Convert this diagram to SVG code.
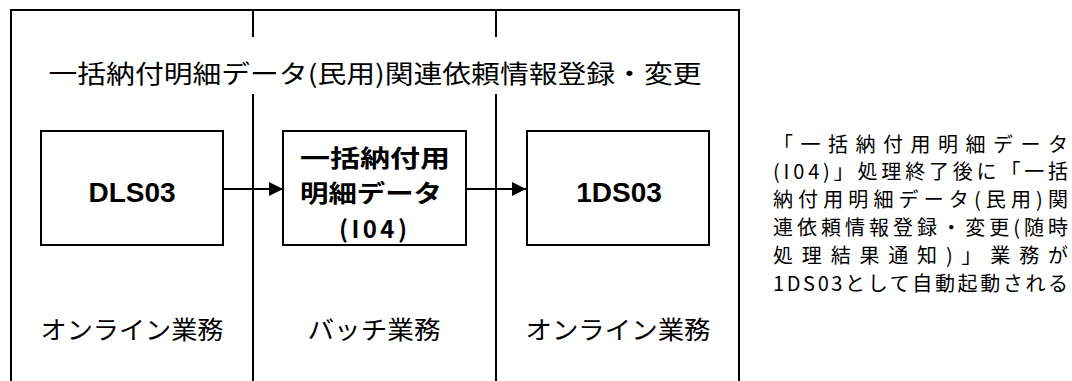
<svg xmlns="http://www.w3.org/2000/svg" width="1072" height="381" viewBox="0 0 1072 381">
<style>
.frame{fill:none;stroke:#000;stroke-width:2}
.box{fill:#fff;stroke:#000;stroke-width:2}
.div{stroke:#000;stroke-width:2;fill:none}
.conn{stroke:#000;stroke-width:2;fill:none}
.jp{font-family:"Noto Sans CJK JP","Noto Sans",sans-serif;fill:#000;dominant-baseline:central}
.lbl{font-size:25px;text-anchor:middle}
.bt{font-size:24px;font-weight:bold;text-anchor:middle}
.code{font-family:"Liberation Sans",Arial,sans-serif;font-size:28px;font-weight:bold;text-anchor:middle;dominant-baseline:central;fill:#000}
.note{font-family:"Noto Sans CJK JP","Noto Sans",sans-serif;font-size:20px;fill:#000;dominant-baseline:central}
</style>
<defs>
<marker id="ah" viewBox="0 0 10 10" refX="10" refY="5" markerWidth="14" markerHeight="14" markerUnits="userSpaceOnUse" orient="auto">
<path d="M0,0 L10,5 L0,10 z" fill="#000"/>
</marker>
</defs>
<rect width="1072" height="381" fill="#fff"/>
<g id="frame">
<path class="frame" d="M11,381 L11,10 L739,10 L739,381"/>
<path class="div" d="M253,10 L253,37 M253,94 L253,381"/>
<path class="div" d="M496,10 L496,37 M496,94 L496,381"/>
<text class="jp lbl" x="375" y="72" textLength="653" lengthAdjust="spacingAndGlyphs">一括納付明細データ(民用)関連依頼情報登録・変更</text>
<text class="jp lbl" x="132" y="328" textLength="183" lengthAdjust="spacingAndGlyphs">オンライン業務</text>
<text class="jp lbl" x="374" y="328" textLength="133" lengthAdjust="spacingAndGlyphs">バッチ業務</text>
<text class="jp lbl" x="618" y="328" textLength="185" lengthAdjust="spacingAndGlyphs">オンライン業務</text>
</g>
<g id="connectors">
<path class="conn" d="M223,189 L283,189" marker-end="url(#ah)"/>
<path class="conn" d="M466,189 L526,189" marker-end="url(#ah)"/>
</g>
<g id="node-dls03">
<rect class="box" x="41" y="131" width="182" height="114"/>
<text class="code" x="132" y="192">DLS03</text>
</g>
<g id="node-i04">
<rect class="box" x="283" y="131" width="183" height="114"/>
<text class="jp bt" x="375" y="156" textLength="150" lengthAdjust="spacingAndGlyphs">一括納付用</text>
<text class="jp bt" x="371" y="191" textLength="142" lengthAdjust="spacingAndGlyphs">明細データ</text>
<text class="jp bt" x="373" y="227" textLength="68" lengthAdjust="spacing">(I04)</text>
</g>
<g id="node-1ds03">
<rect class="box" x="527" y="131" width="182" height="114"/>
<text class="code" x="619" y="192">1DS03</text>
</g>
<g id="note">
<text class="note" x="773" y="143" textLength="295" lengthAdjust="spacing">「一括納付用明細データ</text>
<text class="note" x="773" y="170" textLength="295" lengthAdjust="spacing">(I04)」処理終了後に「一括</text>
<text class="note" x="773" y="198" textLength="295" lengthAdjust="spacing">納付用明細データ(民用)関</text>
<text class="note" x="773" y="226" textLength="295" lengthAdjust="spacing">連依頼情報登録・変更(随時</text>
<text class="note" x="773" y="254" textLength="295" lengthAdjust="spacing">処理結果通知)」業務が</text>
<text class="note" x="773" y="282" textLength="295" lengthAdjust="spacing">1DS03として自動起動される</text>
</g>
</svg>
